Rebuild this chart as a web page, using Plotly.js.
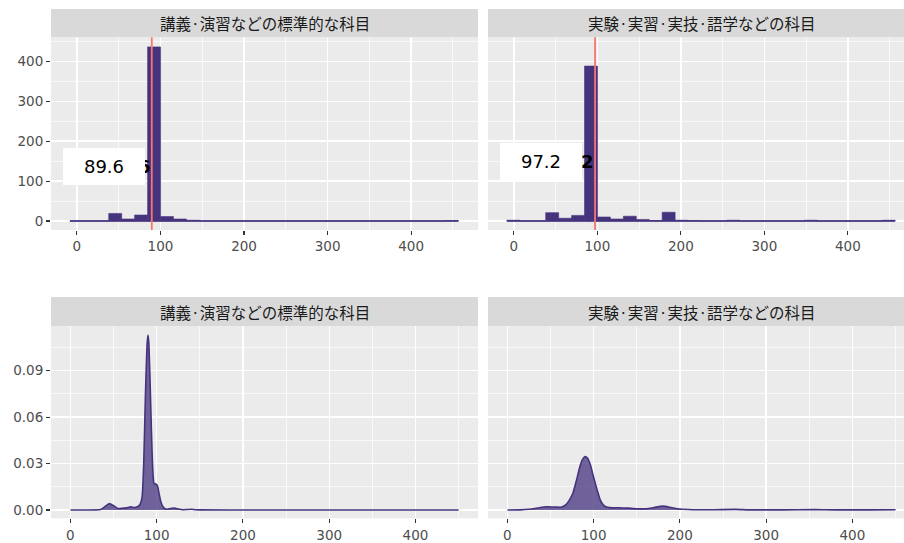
<!DOCTYPE html>
<html>
<head>
<meta charset="utf-8">
<script src="https://cdn.plot.ly/plotly-3.0.1.min.js"></script>
<style>html,body{margin:0;padding:0;background:#fff;}#chart{width:904px;height:543px;}</style>
</head>
<body>
<div id="chart"></div>
<script>
// ---- data ----
const panelTitles = ["講義·演習などの標準的な科目", "実験·実習·実技·語学などの科目"];
const binCenters = [-0.65, 14.85, 30.35, 45.85, 61.35, 76.85, 92.35, 107.85, 123.35, 138.85,
  154.35, 169.85, 185.35, 200.85, 216.35, 231.85, 247.35, 262.85, 278.35, 293.85,
  309.35, 324.85, 340.35, 355.85, 371.35, 386.85, 402.35, 417.85, 433.35, 448.85];
const binWidth = 15.5;
const countsLecture = [0, 0, 0, 19, 5, 15, 436, 11, 5, 2,
  0, 0, 0, 0, 0, 0, 0, 0, 0, 0,
  0, 0, 0, 0, 0, 0, 0, 0, 0, 1];
const countsPractice = [2, 0, 0, 21, 7, 14, 388, 10, 5, 12,
  4, 1, 22, 2, 1, 0, 0, 2, 0, 0,
  0, 0, 0, 2, 0, 0, 0, 0, 0, 2];
const means = [89.6, 97.2];
const meanLabels = ["89.6", "97.2"];
const labelX = [33, 33];
const labelY = [136.5, 148.5];

const densLectureX = [0, 20, 35, 40, 45, 50, 55, 60, 65, 70, 75, 80, 83, 85, 87, 89, 90, 91, 93, 95, 97, 99, 101, 103, 105, 108, 112, 116, 120, 124, 130, 135, 140, 145, 150, 200, 300, 400, 450];
const densLectureY = [0, 0, 0.0003, 0.0022, 0.0041, 0.0028, 0.0010, 0.0011, 0.0014, 0.0020, 0.0016, 0.0030, 0.008, 0.030, 0.075, 0.108, 0.113, 0.107, 0.070, 0.032, 0.017, 0.0168, 0.0155, 0.0100, 0.0050, 0.0015, 0.0005, 0.0009, 0.0012, 0.0008, 0.0002, 0.0003, 0.0005, 0.0002, 0.0001, 0, 0, 0, 0];
const densPracticeX = [0, 15, 25, 35, 45, 55, 62, 68, 72, 76, 80, 84, 87, 90, 93, 96, 100, 102, 104, 108, 112, 116, 122, 130, 140, 150, 160, 170, 180, 190, 200, 215, 240, 265, 280, 320, 355, 380, 420, 450];
const densPracticeY = [0, 0.0001, 0.0005, 0.0013, 0.0021, 0.0019, 0.0018, 0.0035, 0.0065, 0.011, 0.019, 0.028, 0.0325, 0.0345, 0.0335, 0.0295, 0.021, 0.017, 0.013, 0.006, 0.0028, 0.0018, 0.0014, 0.0015, 0.0012, 0.0008, 0.0008, 0.0016, 0.0025, 0.0016, 0.0006, 0.0002, 0.0002, 0.0004, 0.0001, 0.0001, 0.0003, 0.0001, 0.0001, 0.0002];

// ---- styles ----
const W = 904, H = 543;
const px = p => p / W;
const py = p => 1 - p / H;
const barCol = '#46337e';
const tickFont = {family: 'DejaVu Sans', size: 13.5, color: '#4d4d4d'};

const baseEdges = [binCenters[0] - binWidth / 2, binCenters[binCenters.length - 1] + binWidth / 2];

const traces = [];
[[countsLecture, 'x', 'y'], [countsPractice, 'x2', 'y2']].forEach(([c, xa, ya]) => {
  traces.push({type: 'scatter', mode: 'lines', x: baseEdges, y: [0, 0], xaxis: xa, yaxis: ya,
    line: {color: 'rgba(70,51,126,0.8)', width: 2}, hoverinfo: 'skip'});
  traces.push({type: 'bar', x: binCenters, y: c, width: binWidth, xaxis: xa, yaxis: ya,
    marker: {color: barCol, line: {color: barCol, width: 0.6}}});
});
[[densLectureX, densLectureY, 'x3', 'y3'], [densPracticeX, densPracticeY, 'x4', 'y4']].forEach(([dx, dy, xa, ya]) => {
  traces.push({type: 'scatter', mode: 'lines', x: dx, y: dy, xaxis: xa, yaxis: ya,
    fill: 'tozeroy', fillcolor: 'rgba(70,51,126,0.75)',
    line: {color: '#46337e', width: 1.6, shape: 'spline', smoothing: 0.5}});
});

function xax(domain, range, anchor) {
  return {domain, range, anchor, tick0: 0, dtick: 100, zeroline: false, showline: false,
    showgrid: true, gridcolor: '#ffffff', gridwidth: 1.4,
    minor: {dtick: 50, showgrid: true, gridcolor: '#ffffff', gridwidth: 0.7},
    ticks: 'outside', ticklen: 4, tickwidth: 1.1, tickcolor: '#333333', tickfont: tickFont, fixedrange: true};
}
function yax(domain, range, anchor, dtick, minor, fmt, labels) {
  return {domain, range, anchor, tick0: 0, dtick, tickformat: fmt, zeroline: false, showline: false,
    showgrid: true, gridcolor: '#ffffff', gridwidth: 1.4,
    minor: {dtick: minor, tick0: 0, showgrid: true, gridcolor: '#ffffff', gridwidth: 0.7},
    ticks: labels ? 'outside' : '', ticklen: 4, tickwidth: 1.1, tickcolor: '#333333',
    showticklabels: labels, tickfont: tickFont, fixedrange: true};
}

const topDom = [py(230), py(37.3)];
const botDom = [py(518.3), py(326)];
const leftDom = [px(51), px(478)];
const rightDom = [px(488), 1];

const shapes = [];
const annotations = [];
function strip(x0, x1, y0, y1, textCx, text) {
  shapes.push({type: 'rect', xref: 'paper', yref: 'paper', x0: px(x0), x1: Math.min(1, px(x1)),
    y0: py(y1), y1: py(y0), fillcolor: '#d9d9d9', line: {width: 0}});
  annotations.push({xref: 'paper', yref: 'paper', x: px(textCx), y: py((y0 + y1) / 2),
    text: text, showarrow: false, xanchor: 'center', yanchor: 'middle',
    font: {family: 'Noto Sans CJK JP', size: 15.5, color: '#1a1a1a'}});
}
strip(51, 478, 9, 37.3, 264.5, panelTitles[0]);
strip(488, 904, 9, 37.3, 701.5, panelTitles[1]);
strip(51, 478, 297, 326, 264.5, panelTitles[0]);
strip(488, 904, 297, 326, 701.5, panelTitles[1]);

[['x', 'y'], ['x2', 'y2']].forEach(([xa, ya], i) => {
  annotations.push({xref: xa, yref: ya, x: means[i], y: labelY[i], text: '<b>' + meanLabels[i] + '</b>',
    showarrow: false, xanchor: 'right', yanchor: 'middle',
    font: {family: 'DejaVu Sans', size: 18, color: '#000000'}});
  annotations.push({xref: xa, yref: ya, x: labelX[i], y: labelY[i], text: meanLabels[i],
    showarrow: false, xanchor: 'center', yanchor: 'middle', bgcolor: '#ffffff',
    width: 82, height: 37, borderpad: 0, borderwidth: 0,
    font: {family: 'DejaVu Sans', size: 18, color: '#000000'}});
  shapes.push({type: 'line', xref: xa, yref: ya + ' domain', x0: means[i], x1: means[i], y0: 0, y1: 1,
    line: {color: '#f8766d', width: 1.8}, layer: 'above'});
});

const layout = {
  width: W, height: H, margin: {l: 0, r: 0, t: 0, b: 0, pad: 0},
  paper_bgcolor: '#ffffff', plot_bgcolor: '#ebebeb', showlegend: false, bargap: 0,
  font: {family: 'DejaVu Sans'},
  xaxis: xax(leftDom, [-31, 480], 'y'),
  yaxis: yax(topDom, [-22.5, 460], 'x', 100, 50, 'd', true),
  xaxis2: xax(rightDom, [-31, 467.2], 'y2'),
  yaxis2: yax(topDom, [-22.5, 460], 'x2', 100, 50, 'd', false),
  xaxis3: xax(leftDom, [-22.5, 472.5], 'y3'),
  yaxis3: yax(botDom, [-0.00536, 0.1189], 'x3', 0.03, 0.015, '.2f', true),
  xaxis4: xax(rightDom, [-22.5, 459.8], 'y4'),
  yaxis4: yax(botDom, [-0.00536, 0.1189], 'x4', 0.03, 0.015, '.2f', false),
  shapes, annotations
};

Plotly.newPlot('chart', traces, layout, {staticPlot: true, displayModeBar: false});
</script>
</body>
</html>
